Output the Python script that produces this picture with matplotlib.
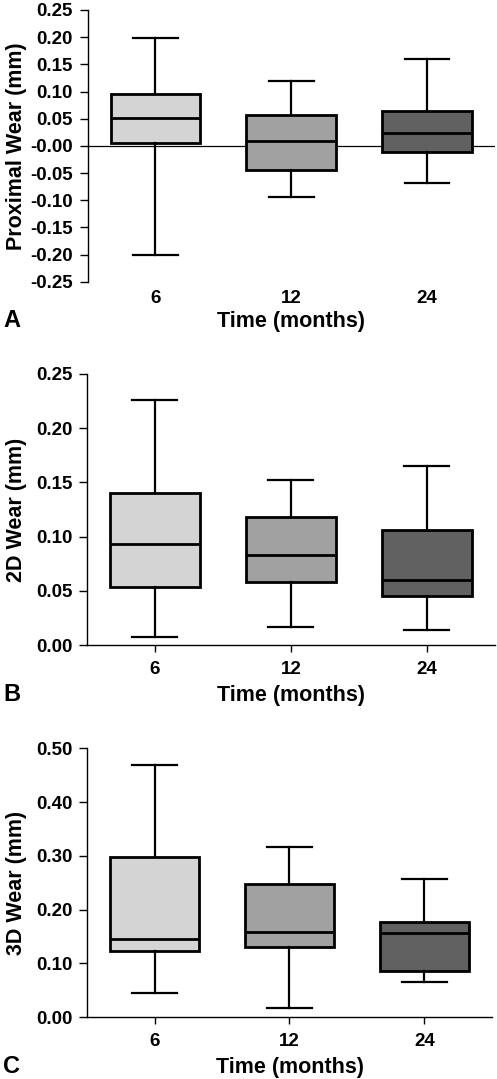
import matplotlib
matplotlib.use("Agg")
import matplotlib.pyplot as plt

plt.rcParams["font.family"] = ["Liberation Sans", "DejaVu Sans"]
plt.rcParams["font.weight"] = "bold"

months = ["6", "12", "24"]
box_colors = ["#d4d4d4", "#a1a1a1", "#616161"]

# proximal wear (mm): whisker low, q1, median, q3, whisker high
prox_lo = [-0.200, -0.094, -0.069]
prox_q1 = [0.005, -0.044, -0.011]
prox_med = [0.051, 0.0095, 0.024]
prox_q3 = [0.095, 0.057, 0.0635]
prox_hi = [0.198, 0.120, 0.160]
prox_ticks = [-0.25, -0.20, -0.15, -0.10, -0.05, 0.0, 0.05, 0.10, 0.15, 0.20, 0.25]
prox_labels = ["-0.25", "-0.20", "-0.15", "-0.10", "-0.05", "-0.00",
               "0.05", "0.10", "0.15", "0.20", "0.25"]

# 2D wear (mm)
w2d_lo = [0.008, 0.017, 0.014]
w2d_q1 = [0.054, 0.058, 0.045]
w2d_med = [0.093, 0.083, 0.060]
w2d_q3 = [0.140, 0.118, 0.106]
w2d_hi = [0.226, 0.152, 0.165]
w2d_ticks = [0.0, 0.05, 0.10, 0.15, 0.20, 0.25]
w2d_labels = ["0.00", "0.05", "0.10", "0.15", "0.20", "0.25"]

# 3D wear (mm)
w3d_lo = [0.045, 0.017, 0.066]
w3d_q1 = [0.122, 0.131, 0.085]
w3d_med = [0.146, 0.159, 0.156]
w3d_q3 = [0.298, 0.248, 0.177]
w3d_hi = [0.468, 0.317, 0.256]
w3d_ticks = [0.0, 0.10, 0.20, 0.30, 0.40, 0.50]
w3d_labels = ["0.00", "0.10", "0.20", "0.30", "0.40", "0.50"]

W, H = 497, 1079
fig = plt.figure(figsize=(W / 100, H / 100), dpi=100)


def px(x0, y_top, x1, y_bot):
    return [x0 / W, 1 - y_bot / H, (x1 - x0) / W, (y_bot - y_top) / H]


def draw_panel(rect, lo, q1, med, q3, hi, ticks, labels, ylim, ylabel, letter,
               label_base, show_bottom=True):
    ax = fig.add_axes(rect)
    stats = []
    for i in range(len(months)):
        stats.append(dict(whislo=lo[i], q1=q1[i], med=med[i], q3=q3[i],
                          whishi=hi[i], fliers=[], label=months[i]))
    bp = ax.bxp(stats, positions=[1, 2, 3], widths=0.66, capwidths=0.33,
                patch_artist=True, showfliers=False,
                boxprops=dict(linewidth=2.0, edgecolor="black"),
                medianprops=dict(color="black", linewidth=2.0),
                whiskerprops=dict(color="black", linewidth=1.6),
                capprops=dict(color="black", linewidth=1.6),
                zorder=3)
    for patch, c in zip(bp["boxes"], box_colors):
        patch.set_facecolor(c)
    ax.set_xlim(0.5, 3.5)
    ax.set_ylim(*ylim)
    ax.set_yticks(ticks)
    ax.set_yticklabels(labels)
    ax.spines["top"].set_visible(False)
    ax.spines["right"].set_visible(False)
    ax.spines["left"].set_linewidth(1.0)
    ax.spines["bottom"].set_linewidth(1.0)
    ax.tick_params(axis="y", length=5.8, width=1.0, pad=4.6, labelsize=13.5)
    if show_bottom:
        ax.tick_params(axis="x", length=5, width=1.0, pad=6.5, labelsize=13.5)
    else:
        ax.spines["bottom"].set_visible(False)
        ax.tick_params(axis="x", length=0, pad=6, labelsize=13.5)
        ax.axhline(0, color="black", linewidth=0.9, zorder=1)
    for t in ax.get_xticklabels() + ax.get_yticklabels():
        t.set_fontweight("bold")
    ymid = 1 - (rect[1] + rect[3] / 2)
    fig.text(17 / W, 1 - ymid, ylabel, rotation=90, ha="center", va="center",
             fontsize=15.5, fontweight="bold")
    xc = rect[0] + rect[2] / 2
    fig.text(xc, 1 - label_base / H, "Time (months)", ha="center",
             va="baseline", fontsize=15.5, fontweight="bold")
    fig.text(3 / W, 1 - label_base / H, letter, ha="left", va="baseline",
             fontsize=17, fontweight="bold")
    return ax


draw_panel(px(87.5, 10, 495, 281.7), prox_lo, prox_q1, prox_med, prox_q3,
           prox_hi, prox_ticks, prox_labels, (-0.25, 0.25),
           "Proximal Wear (mm)", "A", 327, show_bottom=False)
draw_panel(px(86.7, 373.7, 495, 645.3), w2d_lo, w2d_q1, w2d_med, w2d_q3,
           w2d_hi, w2d_ticks, w2d_labels, (0, 0.25), "2D Wear (mm)", "B", 701)
draw_panel(px(87.3, 748.3, 491.7, 1017), w3d_lo, w3d_q1, w3d_med, w3d_q3,
           w3d_hi, w3d_ticks, w3d_labels, (0, 0.5), "3D Wear (mm)", "C", 1072.7)

fig.savefig("out.png", dpi=100)
